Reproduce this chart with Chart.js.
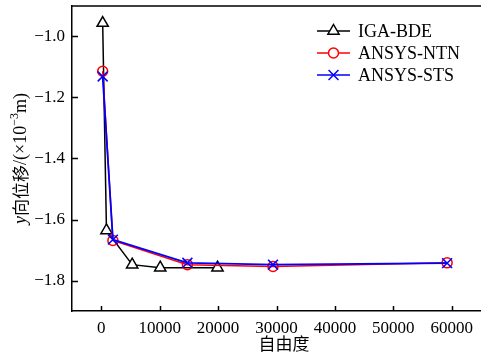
<!DOCTYPE html>
<html>
<head>
<meta charset="utf-8">
<script src="https://cdn.jsdelivr.net/npm/chart.js@4.4.1/dist/chart.umd.min.js"></script>
<style>
  html, body { margin: 0; padding: 0; background: #fff; }
  canvas { display: block; }
</style>
</head>
<body>
<canvas id="dispChart" width="481" height="356"></canvas>
<script>
// degrees of freedom vs. y displacement (x10^-3 m)
const igaDof = [250, 900, 5300, 10100, 19900];
const igaDisp = [-0.956, -1.636, -1.748, -1.758, -1.758];
const ntnDof = [250, 2000, 14750, 29400, 59200];
const ntnDisp = [-1.114, -1.669, -1.748, -1.754, -1.742];
const stsDof = [250, 2000, 14750, 29400, 59200];
const stsDisp = [-1.131, -1.666, -1.742, -1.748, -1.743];
const xTicks = [0, 10000, 20000, 30000, 40000, 50000, 60000];
const yTicks = [-1.8, -1.6, -1.4, -1.2, -1.0];

const serif = '"Liberation Serif", "Times New Roman", serif';
const cjk = '"Noto Sans CJK SC", sans-serif';

function pts(xs, ys) {
  return xs.map((x, i) => ({ x: x, y: ys[i] }));
}

function marker(ctx, style, r, x, y, color) {
  ctx.save();
  ctx.strokeStyle = color;
  ctx.lineWidth = 1.5;
  ctx.fillStyle = '#fff';
  ctx.beginPath();
  if (style === 'triangle') {
    ctx.moveTo(x, y - r);
    ctx.lineTo(x + r * 0.866, y + r * 0.5);
    ctx.lineTo(x - r * 0.866, y + r * 0.5);
    ctx.closePath();
    ctx.fill();
  } else if (style === 'circle') {
    ctx.arc(x, y, r, 0, Math.PI * 2);
    ctx.fill();
  } else {
    const d = r * 0.707;
    ctx.moveTo(x - d, y - d); ctx.lineTo(x + d, y + d);
    ctx.moveTo(x + d, y - d); ctx.lineTo(x - d, y + d);
  }
  ctx.stroke();
  ctx.restore();
}

const extras = {
  id: 'extras',
  afterDraw(chart) {
    const ctx = chart.ctx;
    const a = chart.chartArea;
    const xs = chart.scales.x, ys = chart.scales.y;
    ctx.save();
    ctx.strokeStyle = '#000';
    ctx.lineWidth = 1.5;
    // top frame line
    ctx.beginPath();
    ctx.moveTo(a.left, a.top);
    ctx.lineTo(a.right, a.top);
    ctx.stroke();
    // inward ticks
    ctx.beginPath();
    xTicks.forEach(v => {
      const p = Math.round(xs.getPixelForValue(v)) + 0.5;
      ctx.moveTo(p, a.bottom);
      ctx.lineTo(p, a.bottom - 5);
    });
    yTicks.forEach(v => {
      const p = Math.round(ys.getPixelForValue(v)) + 0.5;
      ctx.moveTo(a.left, p);
      ctx.lineTo(a.left + 6, p);
    });
    ctx.stroke();

    // legend
    const rows = [
      { label: 'IGA-BDE', color: '#000', style: 'triangle', r: 6.5 },
      { label: 'ANSYS-NTN', color: '#ff0000', style: 'circle', r: 5 },
      { label: 'ANSYS-STS', color: '#0000ff', style: 'crossRot', r: 7 }
    ];
    ctx.font = '18px ' + serif;
    ctx.textBaseline = 'middle';
    ctx.textAlign = 'left';
    rows.forEach((row, i) => {
      const y = 31 + i * 22;
      ctx.strokeStyle = row.color;
      ctx.lineWidth = 1.5;
      ctx.beginPath();
      ctx.moveTo(317, y);
      ctx.lineTo(350, y);
      ctx.stroke();
      marker(ctx, row.style, row.r, 333.5, y, row.color);
      ctx.fillStyle = '#000';
      ctx.fillText(row.label, 358, y + 1);
    });

    // x title
    ctx.font = '17px ' + cjk;
    ctx.textAlign = 'center';
    ctx.fillText('自由度', 284, 344);

    // y title, rotated
    const parts = [
      { t: 'y', f: 'italic 18px ' + serif, dy: 0 },
      { t: '向位移', f: '17px ' + cjk, dy: 0 },
      { t: '/(×10', f: '18px ' + serif, dy: 0 },
      { t: '−3', f: '12px ' + serif, dy: -6 },
      { t: 'm)', f: '18px ' + serif, dy: 0 }
    ];
    let total = 0;
    parts.forEach(p => { ctx.font = p.f; p.w = ctx.measureText(p.t).width; total += p.w; });
    ctx.translate(21, (a.top + a.bottom) / 2);
    ctx.rotate(-Math.PI / 2);
    ctx.textAlign = 'left';
    let cx = -total / 2;
    parts.forEach(p => {
      ctx.font = p.f;
      ctx.fillText(p.t, cx, p.dy);
      cx += p.w;
    });
    ctx.restore();
  }
};

new Chart(document.getElementById('dispChart'), {
  type: 'line',
  data: {
    datasets: [{
      label: 'ANSYS-STS',
      data: pts(stsDof, stsDisp),
      borderColor: '#0000ff',
      borderWidth: 1.8,
      pointStyle: 'crossRot',
      pointRadius: 7,
      pointBorderWidth: 1.5,
      pointBorderColor: '#0000ff',
      order: 0
    }, {
      label: 'ANSYS-NTN',
      data: pts(ntnDof, ntnDisp),
      borderColor: '#ff0000',
      borderWidth: 1.5,
      pointStyle: 'circle',
      pointRadius: 5,
      pointBorderWidth: 1.5,
      pointBorderColor: '#ff0000',
      pointBackgroundColor: 'rgba(255,255,255,0)',
      order: 1
    }, {
      label: 'IGA-BDE',
      data: pts(igaDof, igaDisp),
      borderColor: '#000',
      borderWidth: 1.5,
      pointStyle: 'triangle',
      pointRadius: 6.5,
      pointBorderWidth: 1.5,
      pointBorderColor: '#000',
      pointBackgroundColor: '#fff',
      order: 2
    }]
  },
  options: {
    responsive: false,
    animation: false,
    devicePixelRatio: 1,
    layout: { autoPadding: false, padding: { top: 6, right: 0, left: 0, bottom: 0 } },
    plugins: {
      legend: { display: false },
      tooltip: { enabled: false }
    },
    scales: {
      x: {
        type: 'linear',
        min: -5000,
        max: 65000,
        afterFit: s => {
          s.height = 45;
          s.paddingLeft = 0; s.paddingRight = 0; s.paddingTop = 0; s.paddingBottom = 0;
        },
        afterBuildTicks: s => { s.ticks = xTicks.map(v => ({ value: v })); },
        grid: { display: false, drawTicks: false },
        border: { color: '#000', width: 1.5 },
        ticks: {
          padding: 7,
          color: '#000',
          font: { family: serif, size: 17 },
          callback: v => String(v)
        }
      },
      y: {
        min: -1.9,
        max: -0.9,
        afterFit: s => {
          s.width = 72;
          s.paddingLeft = 0; s.paddingRight = 0; s.paddingTop = 0; s.paddingBottom = 0;
        },
        afterBuildTicks: s => { s.ticks = yTicks.map(v => ({ value: v })); },
        grid: { display: false, drawTicks: false },
        border: { color: '#000', width: 1.5 },
        ticks: {
          padding: 7,
          color: '#000',
          font: { family: serif, size: 17 },
          callback: v => (v < 0 ? '−' : '') + Math.abs(v).toFixed(1)
        }
      }
    }
  },
  plugins: [extras]
});
</script>
</body>
</html>
